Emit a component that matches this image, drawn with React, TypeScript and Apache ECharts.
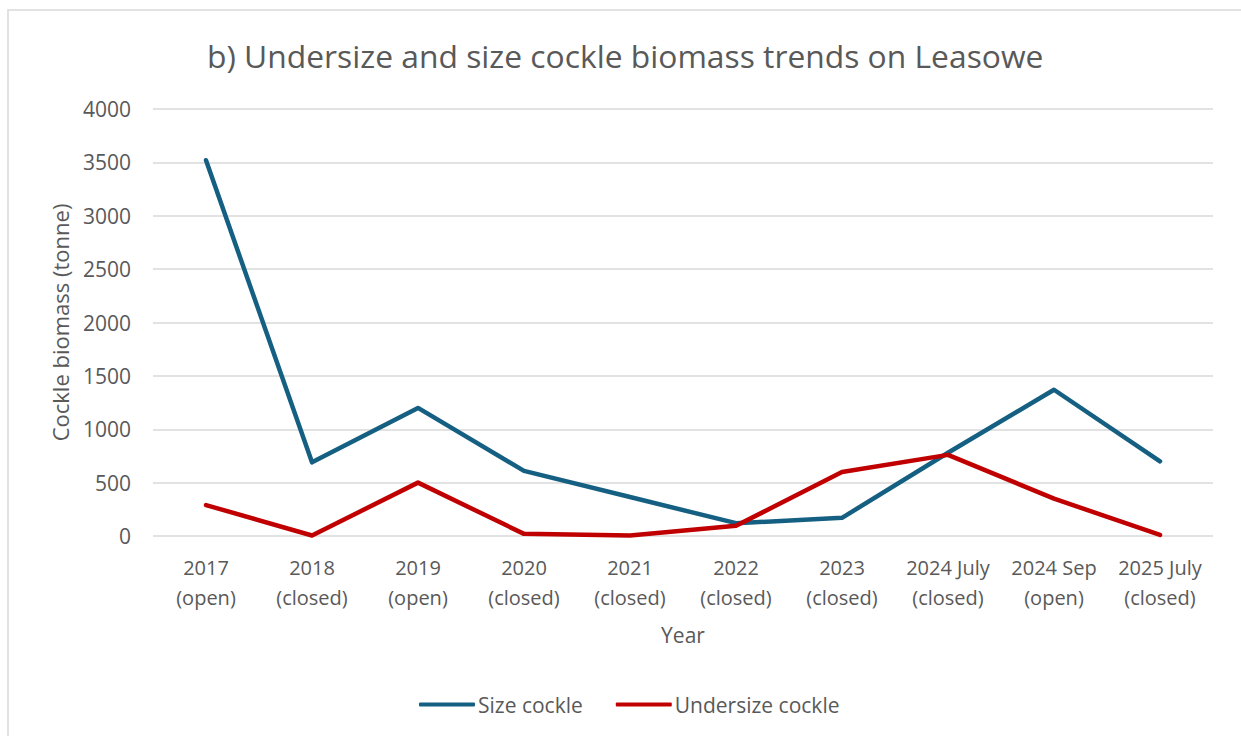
import React, { useEffect, useRef } from "react";
import * as echarts from "echarts";

const categories = [
  "2017\n(open)",
  "2018\n(closed)",
  "2019\n(open)",
  "2020\n(closed)",
  "2021\n(closed)",
  "2022\n(closed)",
  "2023\n(closed)",
  "2024 July\n(closed)",
  "2024 Sep\n(open)",
  "2025 July\n(closed)",
];
const sizeCockle = [3520, 690, 1200, 610, 365, 120, 170, 780, 1370, 700];
const undersizeCockle = [290, 5, 500, 20, 5, 95, 600, 760, 350, 10];

const FONT = "'Open Sans', 'Noto Sans', sans-serif";
const TXT = "#595959";

export default function App() {
  const ref = useRef<HTMLDivElement>(null);
  useEffect(() => {
    if (!ref.current) return;
    const chart = echarts.init(ref.current, undefined, { renderer: "svg" });
    chart.setOption({
      animation: false,
      backgroundColor: "#ffffff",
      textStyle: { fontFamily: FONT },
      title: {
        text: "b) Undersize and size cockle biomass trends on Leasowe",
        left: 202,
        top: 34,
        textStyle: { fontFamily: FONT, fontSize: 31.8, fontWeight: "normal", color: TXT },
      },
      graphic: [
        {
          type: "rect",
          shape: { x: 8, y: 10, width: 1245, height: 740 },
          style: { fill: "none", stroke: "#d9d9d9", lineWidth: 1.5 },
          silent: true,
        },
      ],
      legend: {
        bottom: 16,
        left: 414,
        itemWidth: 56,
        itemHeight: 4,
        itemGap: 33,
        icon: "roundRect",
        textStyle: { fontFamily: FONT, fontSize: 21, color: TXT, padding: [0, 0, 0, -2] },
        data: ["Size cockle", "Undersize cockle"],
      },
      grid: { left: 153, right: 28, top: 109, bottom: 200, containLabel: false },
      xAxis: {
        type: "category",
        data: categories,
        boundaryGap: true,
        name: "Year",
        nameLocation: "middle",
        nameGap: 88,
        nameTextStyle: { fontFamily: FONT, fontSize: 21, color: TXT },
        axisLine: { show: false },
        axisTick: { show: false },
        axisLabel: {
          fontFamily: FONT,
          fontSize: 20,
          color: TXT,
          lineHeight: 30,
          margin: 16,
          interval: 0,
        },
      },
      yAxis: {
        type: "value",
        min: 0,
        max: 4000,
        interval: 500,
        name: "Cockle biomass (tonne)",
        nameLocation: "middle",
        nameGap: 82,
        nameTextStyle: { fontFamily: FONT, fontSize: 22, color: TXT },
        axisLine: { show: false },
        axisTick: { show: false },
        axisLabel: {
          fontFamily: FONT,
          fontSize: 21,
          color: TXT,
          margin: 22,
          formatter: (v: number) => String(v),
        },
        splitLine: { lineStyle: { color: "#d9d9d9", width: 1.5 } },
      },
      series: [
        {
          name: "Size cockle",
          type: "line",
          data: sizeCockle,
          symbol: "none",
          lineStyle: { color: "#156082", width: 4.5, cap: "round", join: "round" },
          itemStyle: { color: "#156082" },
          z: 2,
        },
        {
          name: "Undersize cockle",
          type: "line",
          data: undersizeCockle,
          symbol: "none",
          lineStyle: { color: "#C00000", width: 4.5, cap: "round", join: "round" },
          itemStyle: { color: "#C00000" },
          z: 3,
        },
      ],
    });
    return () => chart.dispose();
  }, []);
  return <div ref={ref} style={{ width: 1241, height: 736, position: "absolute", left: 0, top: 0 }} />;
}
